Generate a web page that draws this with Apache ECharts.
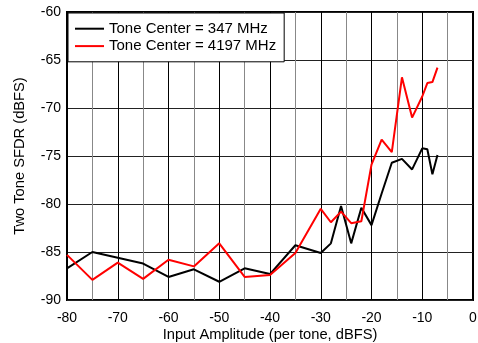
<!DOCTYPE html>
<html><head><meta charset="utf-8">
<script src="https://cdn.jsdelivr.net/npm/echarts@6/dist/echarts.min.js"></script>
<style>html,body{margin:0;padding:0;background:#fff}#c{width:478px;height:343px}</style>
</head><body><div id="c"></div>
<script>
var xBlack = [-80,-75,-70,-65,-60,-55,-50,-45,-40,-35,-30,-28,-26,-24,-22,-20,-18,-16,-14,-12,-10,-9,-8,-7];
var yBlack = [-86.7,-85.0,-85.6,-86.2,-87.6,-86.8,-88.1,-86.7,-87.3,-84.3,-85.1,-84.1,-80.2,-84.1,-80.4,-82.2,-78.9,-75.7,-75.3,-76.4,-74.2,-74.3,-76.9,-74.9];
var xRed = [-80,-75,-70,-65,-60,-55,-50,-45,-40,-35,-30,-28,-26,-24,-22,-20,-18,-16,-14,-12,-10,-9,-8,-7];
var yRed = [-85.3,-87.9,-86.1,-87.8,-85.8,-86.5,-84.1,-87.6,-87.4,-85.1,-80.5,-81.9,-80.8,-82.0,-81.8,-75.9,-73.3,-74.6,-66.8,-71.0,-68.8,-67.4,-67.3,-65.8];
var seriesNames = ['Tone Center = 347 MHz','Tone Center = 4197 MHz'];
var xTicks = {min:-80,max:0,interval:10};
var yTicks = {min:-90,max:-60,interval:5};
function pairs(xs,ys){return xs.map(function(x,i){return [x,ys[i]];});}
var font = 'Liberation Sans, Arial, sans-serif';
var chart = echarts.init(document.getElementById('c'));
chart.setOption({
  animation:false,
  grid:{left:67,right:5,top:12,bottom:43,show:true,borderColor:'#000',borderWidth:2,backgroundColor:'transparent',
    containLabel:false,outerBoundsMode:'none'},
  legend:{show:true,left:68,top:13,orient:'vertical',itemGap:0,itemWidth:29,itemHeight:2,
    padding:[7,8,7,7],borderColor:'#000',borderWidth:1,backgroundColor:'#fff',
    textStyle:{fontFamily:font,fontSize:15,color:'#000',lineHeight:17.4},
    data:[{name:seriesNames[0],icon:'rect'},{name:seriesNames[1],icon:'rect'}]},
  xAxis:{type:'value',min:xTicks.min,max:xTicks.max,interval:xTicks.interval,
    name:'Input Amplitude (per tone, dBFS)',nameLocation:'middle',nameGap:27,nameMoveOverlap:false,
    nameTextStyle:{fontFamily:font,fontSize:14.7,color:'#000'},
    axisLine:{show:false},axisTick:{show:false},
    axisLabel:{fontFamily:font,fontSize:14,color:'#000',margin:11},
    splitLine:{show:true,lineStyle:{color:'#000',width:1}},
    minorTick:{show:false,splitNumber:2},
    minorSplitLine:{show:true,lineStyle:{color:'#888',width:1}}},
  yAxis:{type:'value',min:yTicks.min,max:yTicks.max,interval:yTicks.interval,
    name:'Two Tone SFDR (dBFS)',nameLocation:'middle',nameGap:40,nameMoveOverlap:false,
    nameTextStyle:{fontFamily:font,fontSize:14.7,color:'#000'},
    axisLine:{show:false},axisTick:{show:false},
    axisLabel:{fontFamily:font,fontSize:14,color:'#000',margin:6},
    splitLine:{show:true,lineStyle:{color:'#222',width:1}}},
  series:[
    {name:seriesNames[0],type:'line',data:pairs(xBlack,yBlack),showSymbol:false,symbol:'none',
      lineStyle:{color:'#000',width:2},itemStyle:{color:'#000'},z:3},
    {name:seriesNames[1],type:'line',data:pairs(xRed,yRed),showSymbol:false,symbol:'none',
      lineStyle:{color:'#ff0000',width:2},itemStyle:{color:'#ff0000'},z:4}
  ]
});
</script></body></html>
